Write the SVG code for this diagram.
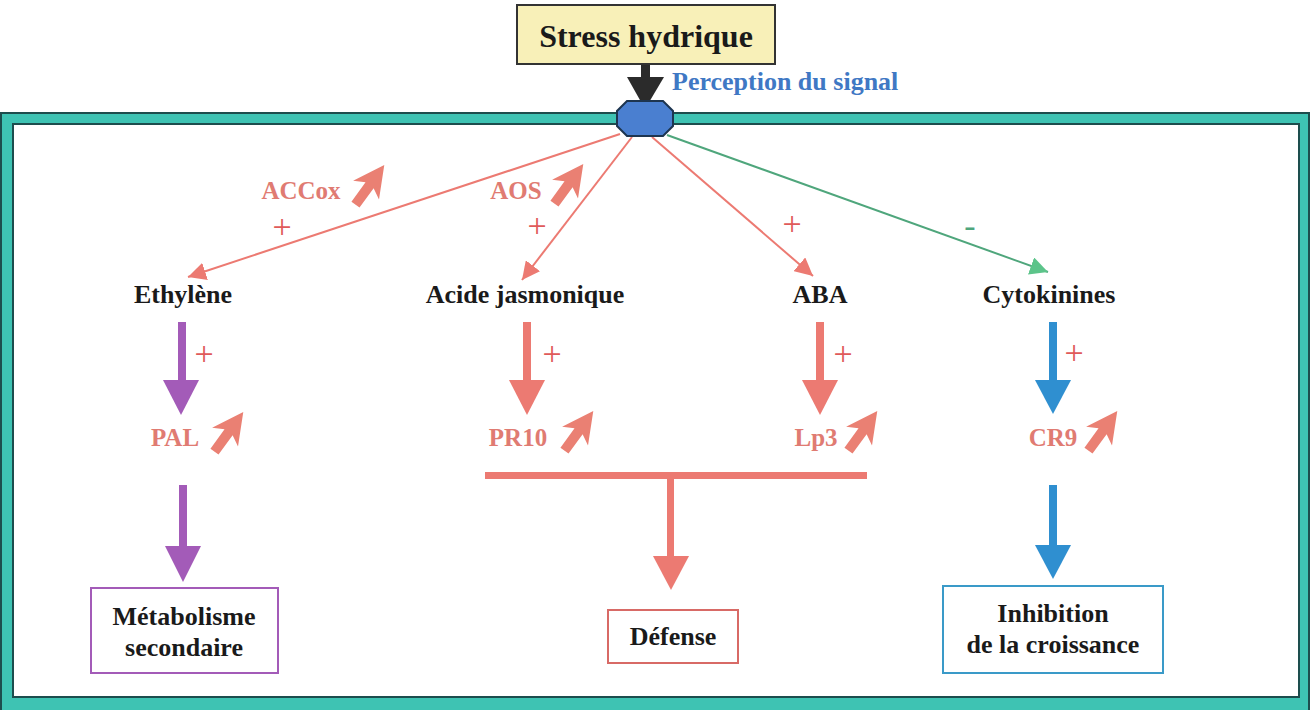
<svg xmlns="http://www.w3.org/2000/svg" width="1310" height="710" viewBox="0 0 1310 710">
<style>
.t{font-family:"Liberation Serif","Times New Roman",serif;font-weight:bold;text-anchor:middle}
.blk{font-size:26px;fill:#1a1a1a}
.gene{font-size:25px;fill:#e07b72}
.plus{font-family:"Liberation Serif","Times New Roman",serif;font-size:34px;fill:#e05a5a;text-anchor:middle}
.thin{fill:none;stroke-width:2}
.box{fill:#ffffff;stroke-width:2}
.up{fill:#ea8073}
</style>
<defs>
<marker id="mr" markerUnits="userSpaceOnUse" markerWidth="20" markerHeight="18" refX="18" refY="9" orient="auto"><path d="M0,0 L18,9 L0,18 Z" fill="#ec7a72"/></marker>
<marker id="mg" markerUnits="userSpaceOnUse" markerWidth="20" markerHeight="18" refX="18" refY="9" orient="auto"><path d="M0,0 L18,9 L0,18 Z" fill="#5cc48a"/></marker>
<path id="upa" d="M0,-26 L16,5 L5,-1 L5,23 L-5,23 L-5,-1 L-16,5 Z"/>
</defs>
<rect x="0" y="0" width="1310" height="710" fill="#ffffff"/>
<g id="frame">
<rect x="1" y="113" width="1308" height="600" fill="#3ec3b3" stroke="#1d4d4d" stroke-width="2"/>
<rect x="13" y="124" width="1286" height="573" fill="#ffffff" stroke="#1d4d4d" stroke-width="2"/>
</g>
<g id="connectors">
<rect x="641" y="63" width="9" height="16" fill="#2b2b2b"/>
<polygon points="627,77 664,77 645,109" fill="#2b2b2b"/>
<line class="thin" x1="620" y1="134" x2="188" y2="277" stroke="#ec7a72" marker-end="url(#mr)"/>
<line class="thin" x1="632" y1="137" x2="522" y2="280" stroke="#ec7a72" marker-end="url(#mr)"/>
<line class="thin" x1="652" y1="137" x2="813" y2="276" stroke="#ec7a72" marker-end="url(#mr)"/>
<line class="thin" x1="667" y1="135" x2="1048" y2="272" stroke="#4fa67c" marker-end="url(#mg)"/>
<rect x="178" y="322" width="8" height="60" fill="#a35bb8"/>
<polygon points="163,380 199,380 181,415" fill="#a35bb8"/>
<rect x="179" y="485" width="8" height="63" fill="#a35bb8"/>
<polygon points="165,546 201,546 183,582" fill="#a35bb8"/>
<rect x="523" y="322" width="8" height="60" fill="#ec7a72"/>
<polygon points="509,380 545,380 527,415" fill="#ec7a72"/>
<rect x="816" y="322" width="8" height="60" fill="#ec7a72"/>
<polygon points="802,380 838,380 820,415" fill="#ec7a72"/>
<rect x="485" y="472" width="382" height="7" fill="#ec7a72"/>
<rect x="667" y="478" width="7" height="80" fill="#ec7a72"/>
<polygon points="653,556 689,556 671,590" fill="#ec7a72"/>
<rect x="1049" y="322" width="8" height="60" fill="#2f8fd0"/>
<polygon points="1035,380 1071,380 1053,414" fill="#2f8fd0"/>
<rect x="1049" y="485" width="8" height="62" fill="#2f8fd0"/>
<polygon points="1035,545 1071,545 1053,579" fill="#2f8fd0"/>
<text class="plus" x="282" y="238">+</text>
<text class="plus" x="537" y="237">+</text>
<text class="plus" x="792" y="235">+</text>
<text class="plus" x="970" y="237" style="fill:#4fa67c">-</text>
<text class="plus" x="204" y="365">+</text>
<text class="plus" x="552" y="365">+</text>
<text class="plus" x="843" y="365">+</text>
<text class="plus" x="1074" y="364">+</text>
</g>
<g id="stress">
<rect x="517" y="5" width="258" height="59" fill="#f8f0b8" stroke="#333333" stroke-width="2"/>
<text class="t" x="646" y="47" style="font-size:32px;fill:#1a1a1a">Stress hydrique</text>
</g>
<g id="perception">
<polygon points="627,101 663,101 673,111 673,126 663,136 627,136 617,126 617,111" fill="#4a7fd0" stroke="#1d3550" stroke-width="2"/>
<text class="t" x="672" y="90" style="font-size:26px;fill:#3f78c4;text-anchor:start">Perception du signal</text>
</g>
<g id="accox">
<text class="t gene" x="301" y="199">ACCox</text>
<use href="#upa" class="up" transform="translate(369,186) rotate(36)"/>
</g>
<g id="aos">
<text class="t gene" x="516" y="199">AOS</text>
<use href="#upa" class="up" transform="translate(568,185) rotate(36)"/>
</g>
<g id="ethylene"><text class="t blk" x="183" y="303">Ethylène</text></g>
<g id="acide"><text class="t blk" x="525" y="303">Acide jasmonique</text></g>
<g id="aba"><text class="t blk" x="820" y="303">ABA</text></g>
<g id="cytokinines"><text class="t blk" x="1049" y="303">Cytokinines</text></g>
<g id="pal">
<text class="t gene" x="175" y="446">PAL</text>
<use href="#upa" class="up" transform="translate(228,433) rotate(36)"/>
</g>
<g id="pr10">
<text class="t gene" x="518" y="446">PR10</text>
<use href="#upa" class="up" transform="translate(578,432) rotate(36)"/>
</g>
<g id="lp3">
<text class="t gene" x="816" y="446">Lp3</text>
<use href="#upa" class="up" transform="translate(862,432) rotate(36)"/>
</g>
<g id="cr9">
<text class="t gene" x="1053" y="446">CR9</text>
<use href="#upa" class="up" transform="translate(1102,432) rotate(36)"/>
</g>
<g id="metabolisme">
<rect class="box" x="91" y="588" width="187" height="85" stroke="#a35bb8"/>
<text class="t blk" x="184" y="625">Métabolisme</text>
<text class="t blk" x="184" y="656">secondaire</text>
</g>
<g id="defense">
<rect class="box" x="608" y="610" width="130" height="53" stroke="#d86a66"/>
<text class="t blk" x="673" y="645">Défense</text>
</g>
<g id="inhibition">
<rect class="box" x="943" y="586" width="220" height="87" stroke="#3a9ac8"/>
<text class="t blk" x="1053" y="622">Inhibition</text>
<text class="t blk" x="1053" y="653">de la croissance</text>
</g>
</svg>
